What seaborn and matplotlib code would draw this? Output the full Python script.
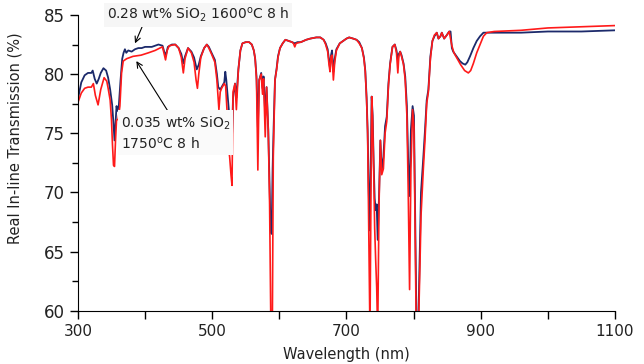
import seaborn as sns
import matplotlib.pyplot as plt

# 0.28 wt% SiO2, 1600 C 8 h (dark blue)
wl_blue = [300, 305, 310, 315, 320, 322, 325, 328, 331, 334, 338, 342, 345, 348, 351, 353,
           354.5, 356, 357.5, 359, 361, 363.5, 366, 368, 370, 372, 375, 380, 385, 390, 395,
           400, 410, 420, 426, 428.5, 431, 434, 440, 445, 450, 454, 457, 459.5, 464, 469,
           473, 477, 480, 483, 488, 492, 495, 499, 504, 507, 509, 512, 514, 518, 519.5, 521,
           524, 527, 529, 531, 534, 536, 539, 542, 545, 550, 555, 559, 562, 564, 566, 568,
           570, 573, 575, 576.5, 579, 581, 583.5, 585.5, 587, 588.5, 590, 591.5, 593.5, 596,
           598, 601, 605, 609, 614, 619, 623, 627, 632, 640, 646, 655, 661, 666, 669, 672,
           674, 675.5, 677, 678.5, 680.5, 682.5, 685, 690, 695, 700, 704, 710, 715, 719, 723,
           726, 728, 730, 731.5, 733, 734.5, 736, 737.5, 739, 740.5, 742, 743.5, 745, 746.5,
           748.5, 750.5, 752.5, 755, 757.5, 760, 762.5, 765, 768.5, 772, 774.5, 776.5, 778,
           780, 782, 785, 787.5, 790, 792, 794, 796, 798.5, 800.5, 802, 804.5, 806.5, 808.5,
           811, 814.5, 817, 819.5, 822, 825, 828, 831, 834.5, 837, 840, 842, 845.5, 849.5,
           853, 855, 857, 859, 864, 869, 873, 877, 880, 884, 889, 894, 899, 904, 920, 934,
           960, 1000, 1050, 1100]
tr_blue = [77.9, 79.3, 79.9, 80.1, 80.1, 80.3, 79.6, 79.2, 79.6, 80.1, 80.5, 80.3, 79.7, 78.7,
           77.4, 75.8, 74.4, 75.8, 77.3, 76.9, 77.4, 79.5, 81.3, 81.8, 82.1, 81.8, 82.0, 81.9,
           82.1, 82.2, 82.2, 82.3, 82.3, 82.5, 82.4, 81.9, 81.6, 82.3, 82.5, 82.5, 82.2, 81.7,
           80.9, 81.5, 82.2, 81.9, 81.4, 80.4, 80.8, 81.5, 82.2, 82.5, 82.3, 81.8, 81.2, 80.0,
           78.9, 78.7, 78.9, 79.3, 80.2, 79.5, 77.5, 75.5, 73.5, 78.0, 79.2, 78.0, 80.4, 82.0,
           82.6, 82.7, 82.7, 82.5, 82.0, 81.3, 79.8, 75.5, 79.5, 80.1, 78.8, 79.8, 76.5, 78.9,
           75.3, 70.5, 66.8, 66.5, 72.0, 75.5, 79.5, 80.5, 81.5, 82.2, 82.6, 82.9, 82.8, 82.7,
           82.6, 82.7, 82.7, 82.9, 83.0, 83.1, 83.1, 82.9, 82.6, 82.1, 81.2, 80.5, 81.6, 82.0,
           80.2, 81.3, 82.1, 82.6, 82.8, 83.0, 83.1, 83.0, 82.9, 82.7, 82.2, 81.4, 80.3, 78.0,
           75.3, 70.5, 66.8, 72.0, 78.1, 76.5, 72.5, 69.5, 68.5, 69.0, 66.0, 69.7, 74.4, 71.9,
           73.0, 75.6, 76.4, 79.2, 80.9, 82.3, 82.5, 82.0, 81.2, 81.7, 81.9, 81.6, 80.9, 79.8,
           77.3, 72.5, 69.7, 75.3, 77.3, 76.5, 69.7, 58.0, 57.5, 63.0, 70.0, 73.0, 75.3, 77.8,
           78.7, 81.5, 82.8, 83.2, 83.5, 83.0, 83.2, 83.5, 83.0, 83.3, 83.6, 83.6, 82.2, 81.9,
           81.5, 81.1, 80.9, 80.8, 81.0, 81.5, 82.2, 82.8, 83.2, 83.5, 83.5, 83.5, 83.5, 83.6,
           83.6, 83.7]

# 0.035 wt% SiO2, 1750 C 8 h (red)
wl_red = [300, 305, 310, 315, 320, 323, 326, 330, 334, 339, 343, 345, 348, 350, 351.5, 353,
          354.5, 356, 357.5, 360, 362.5, 365, 367.5, 372.5, 382, 394, 405, 415, 422, 426,
          428.5, 430.5, 433, 436, 445, 450, 454, 457, 459.5, 464, 469, 473, 476, 478, 480,
          483, 488, 492, 495, 499, 504, 507, 510, 512, 514, 518, 520, 522, 524, 526, 528,
          529.5, 531, 534, 536, 539, 542, 545, 550, 555, 559, 562, 564, 566, 568, 570, 573,
          575, 576.5, 579, 581, 583.5, 585.5, 587.5, 589.5, 591, 593.5, 596, 598, 601, 605,
          609, 614, 619, 621, 623, 625, 632, 640, 646, 655, 661, 666, 669, 672, 674, 675.5,
          677, 678.5, 680.5, 682.5, 685, 690, 695, 700, 704, 710, 715, 719, 723, 726, 728,
          730, 731.5, 733, 735, 736.5, 737.7, 739, 740.5, 742, 743.5, 745, 746.5, 748.5,
          750.5, 752.5, 755, 757.5, 760, 762.5, 765, 768.5, 772, 774.5, 776.5, 778, 780, 782,
          785, 787.5, 790, 792, 794, 796, 798.5, 800.5, 802, 804, 807, 809.5, 811, 814.5, 817,
          819.5, 822, 825, 828, 831, 834.5, 837, 840, 842, 845.5, 849.5, 853, 857, 860, 865,
          870, 876, 881.5, 885, 889, 894, 899, 904, 909, 920, 960, 1000, 1050, 1100]
tr_red = [77.6, 78.4, 78.8, 78.9, 78.9, 79.2, 78.2, 77.4, 78.7, 79.7, 79.4, 78.8, 77.8, 76.1,
          74.0, 72.3, 72.2, 74.4, 76.1, 76.2, 77.3, 80.1, 81.1, 81.3, 81.5, 81.6, 81.8, 82.0,
          82.2, 82.3, 81.7, 81.2, 82.0, 82.4, 82.5, 82.2, 81.4, 80.1, 81.3, 82.2, 81.8, 81.0,
          79.5, 78.8, 80.0, 81.4, 82.2, 82.5, 82.2, 81.7, 81.0, 79.5, 77.0, 78.5, 78.8, 79.2,
          79.0, 77.0, 73.9, 73.0, 71.5, 70.6, 78.5, 79.2, 77.0, 80.4, 82.0, 82.6, 82.7, 82.7,
          82.5, 82.0, 81.3, 79.5, 71.9, 79.5, 80.0, 78.3, 79.6, 74.7, 78.9, 75.3, 69.0, 58.0,
          58.0, 73.0, 79.5, 80.4, 81.4, 82.2, 82.6, 82.9, 82.8, 82.7, 82.6, 82.3, 82.6, 82.7,
          82.9, 83.0, 83.1, 83.1, 82.9, 82.5, 81.9, 80.8, 80.2, 81.5, 81.6, 79.5, 81.0, 82.0,
          82.6, 82.8, 83.0, 83.1, 83.0, 82.9, 82.6, 82.2, 81.3, 80.2, 77.8, 75.0, 68.0, 58.0,
          70.0, 78.1, 76.0, 72.0, 67.0, 64.3, 62.0, 58.0, 69.0, 74.4, 71.5, 72.0, 75.0, 76.0,
          79.0, 80.8, 82.3, 82.5, 81.8, 80.1, 81.5, 81.9, 81.5, 80.8, 79.5, 76.5, 70.0, 61.8,
          72.0, 77.0, 75.5, 68.0, 58.0, 58.0, 64.0, 68.0, 72.0, 74.5, 77.5, 78.5, 81.3, 82.8,
          83.3, 83.5, 83.0, 83.2, 83.5, 83.0, 83.3, 83.6, 82.4, 81.8, 81.3, 80.8, 80.3, 80.1,
          80.3, 80.9, 81.8, 82.5, 83.2, 83.5, 83.6, 83.7, 83.9, 84.0, 84.1]

x_ticks = [300, 400, 500, 600, 700, 800, 900, 1000, 1100]
x_labels = ["300", "", "500", "", "700", "", "900", "", "1100"]
y_ticks = [60, 65, 70, 75, 80, 85]
y_minor = [62.5, 67.5, 72.5, 77.5, 82.5]

sns.set_style("ticks")
plt.rcParams["font.family"] = ["DejaVu Sans"]
txt = "#222222"

fig, ax = plt.subplots(figsize=(6.44, 3.64), dpi=100)
fig.subplots_adjust(left=0.121, right=0.955, bottom=0.146, top=0.959)

sns.lineplot(x=wl_blue, y=tr_blue, color="#1c2a6b", lw=1.3, ax=ax, estimator=None, sort=False)
sns.lineplot(x=wl_red, y=tr_red, color="#ff1a1a", lw=1.2, ax=ax, estimator=None, sort=False)

ax.set_xlim(300, 1100)
ax.set_ylim(60, 85)
ax.set_xticks(x_ticks)
ax.set_xticklabels(x_labels)
ax.set_yticks(y_ticks)
ax.set_yticks(y_minor, minor=True)
ax.tick_params(which="major", direction="out", length=6, width=1, labelsize=11,
               colors="black", labelcolor=txt)
ax.tick_params(which="minor", direction="out", length=4, width=1, colors="black")
ax.tick_params(axis="y", labelsize=12)
for s in ["left", "bottom"]:
    ax.spines[s].set_color("black")
sns.despine(ax=ax)

ax.set_xlabel("Wavelength (nm)", fontsize=10.5, color=txt, labelpad=6)
ax.set_ylabel("Real In-line Transmission (%)", fontsize=10.5, color=txt)
ax.yaxis.set_label_coords(-0.104, 0.584)

# annotations with arrows
ax.annotate(r"0.28 wt% SiO$_2$ 1600$^{\rm o}$C 8 h", xy=(385, 82.6), xytext=(343, 85.0),
            fontsize=10, ha="left", va="center", color=txt,
            bbox=dict(boxstyle="square,pad=0.2", fc="#f6f6f6", ec="none"),
            arrowprops=dict(arrowstyle="->", color="black", lw=0.8, shrinkA=0, shrinkB=0,
                            relpos=(0.2, 0.0)),
            annotation_clip=False)
ax.annotate("0.035 wt% SiO$_2$\n1750$^{\\rm o}$C 8 h", xy=(387, 81.1), xytext=(364, 75.0),
            fontsize=10, ha="left", va="center", linespacing=1.3, color=txt,
            bbox=dict(boxstyle="square,pad=0.2", fc="#fafafa", ec="none"),
            arrowprops=dict(arrowstyle="->", color="black", lw=0.8, shrinkA=0, shrinkB=0,
                            relpos=(0.45, 1.0)))

fig.savefig("out.png", dpi=100)
